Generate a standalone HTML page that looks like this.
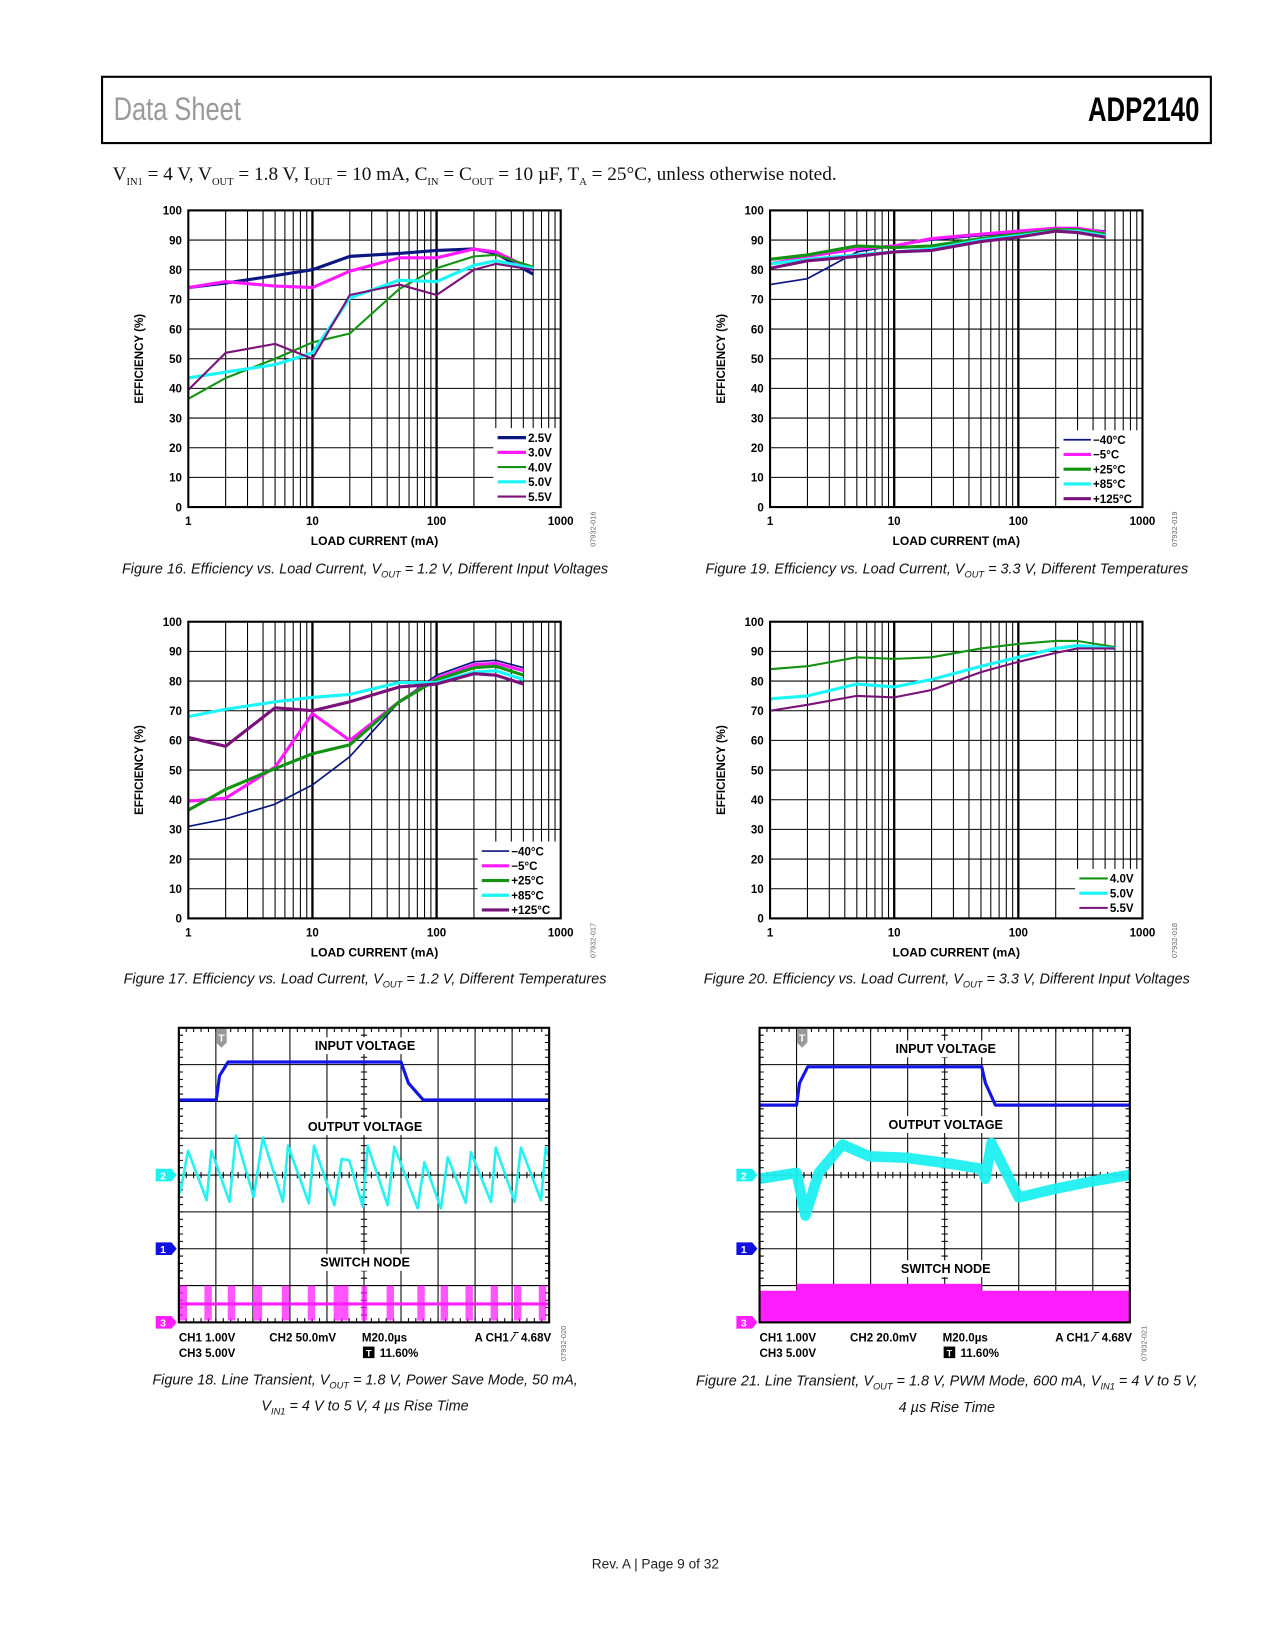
<!DOCTYPE html>
<html><head><meta charset="utf-8">
<style>
html,body{margin:0;padding:0;background:#fff;}
body{width:1275px;height:1650px;overflow:hidden;position:relative;}
#wrap{position:absolute;left:0;top:0;width:1212px;height:1568px;transform:scale(1.052);transform-origin:0 0;}
.abs{position:absolute;white-space:nowrap;}
.cap{font-family:"Liberation Sans",sans-serif;font-style:italic;font-size:14px;color:#111;text-align:center;transform:scaleX(0.98);}
.cap sub{font-size:9px;}
svg text{font-family:"Liberation Sans",sans-serif;}
</style></head>
<body>
<div id="wrap">
  <div class="abs" style="left:96px;top:72px;width:1052px;height:61px;border:2px solid #000;"></div>
  <div class="abs" style="left:108px;top:86px;font-family:'Liberation Sans',sans-serif;font-size:31px;color:#9a9a9a;transform:scaleX(0.78);transform-origin:0 0;">Data Sheet</div>
  <div class="abs" style="right:72px;top:85px;font-family:'Liberation Sans',sans-serif;font-weight:bold;font-size:33px;color:#000;transform:scaleX(0.74);transform-origin:100% 0;">ADP2140</div>
  <div class="abs" style="left:107px;top:155px;font-family:'Liberation Serif',serif;font-size:18.3px;color:#111;">V<sub style="font-size:10px">IN1</sub> = 4 V, V<sub style="font-size:10px">OUT</sub> = 1.8 V, I<sub style="font-size:10px">OUT</sub> = 10 mA, C<sub style="font-size:10px">IN</sub> = C<sub style="font-size:10px">OUT</sub> = 10 µF, T<sub style="font-size:10px">A</sub> = 25°C, unless otherwise noted.</div>

  <div class="abs cap" style="left:97px;width:500px;top:532px;">Figure 16. Efficiency vs. Load Current, V<sub>OUT</sub> = 1.2 V, Different Input Voltages</div>
  <div class="abs cap" style="left:650px;width:500px;top:532px;">Figure 19. Efficiency vs. Load Current, V<sub>OUT</sub> = 3.3 V, Different Temperatures</div>
  <div class="abs cap" style="left:97px;width:500px;top:922px;">Figure 17. Efficiency vs. Load Current, V<sub>OUT</sub> = 1.2 V, Different Temperatures</div>
  <div class="abs cap" style="left:650px;width:500px;top:922px;">Figure 20. Efficiency vs. Load Current, V<sub>OUT</sub> = 3.3 V, Different Input Voltages</div>
  <div class="abs cap" style="left:97px;width:500px;top:1302px;line-height:19px;">Figure 18. Line Transient, V<sub>OUT</sub> = 1.8 V, Power Save Mode, 50 mA,<br>V<sub>IN1</sub> = 4 V to 5 V, 4 µs Rise Time</div>
  <div class="abs cap" style="left:650px;width:500px;top:1303px;line-height:19px;">Figure 21. Line Transient, V<sub>OUT</sub> = 1.8 V, PWM Mode, 600 mA, V<sub>IN1</sub> = 4 V to 5 V,<br>4 µs Rise Time</div>
  <div class="abs" style="left:523px;width:200px;text-align:center;top:1479px;font-family:'Liberation Sans',sans-serif;font-size:13px;color:#222;">Rev. A | Page 9 of 32</div>

  <svg id="main" class="abs" style="left:0;top:0" width="1212" height="1568"></svg>
</div>
<script>
// ---------- Figure 16 data ----------
const f16X=[1,2,5,10,20,50,100,200,300,600];
const f16_25=[74,75.5,78,80,84.5,85.5,86.5,87,85.5,78.5];
const f16_30=[74,76,74.5,74,79.5,84,84,87,86,80];
const f16_40=[36.5,43.5,50,55.5,58.5,73.5,80.5,84.5,85,81];
const f16_50=[43.5,45.5,48,52,70.5,76.5,76,81.5,83,80.5];
const f16_55=[39.5,52,55,50,71.5,75,71.5,80,82,80];
const f16Labels=["2.5V","3.0V","4.0V","5.0V","5.5V"];
// ---------- Figure 19 data ----------
const f19X=[1,2,5,10,20,50,100,200,300,500];
const f19_m40=[75,77,86,88,90,91.5,92.5,93.5,94,93];
const f19_m5=[82,84.5,87,88,90.5,92,93,94,94,92.5];
const f19_25=[83.5,85,88,87.5,88,90.5,92,93.5,93.5,92];
const f19_85=[82,83.5,85,86,87,90,91.5,93,93,91.5];
const f19_125=[80.5,83,84.5,86,86.5,89.5,91,93,92.5,91];
const tempLabels=["\u221240\u00b0C","\u22125\u00b0C","+25\u00b0C","+85\u00b0C","+125\u00b0C"];
// ---------- Figure 17 data ----------
const f17X=[1,2,5,10,20,50,100,200,300,500];
const f17_m40=[31,33.5,38.5,45,54.5,73,82,86.5,87,84.5];
const f17_m5=[39.5,40.5,51,69,60,73,81,85.5,86,83.5];
const f17_25=[36.5,43.5,50.5,55.5,58.5,73,80.5,84.5,85,82];
const f17_85=[68,70.5,73,74.5,75.5,79.5,79.5,83,83.5,80.5];
const f17_125=[61,58,71,70,73,78,79,82.5,82,79];
// ---------- Figure 20 data ----------
const f20X=[1,2,5,10,20,50,100,200,300,600];
const f20_40=[84,85,88,87.5,88,91,92.5,93.5,93.5,91.5];
const f20_50=[74,75,79,78,80.5,85,88,91,92,91];
const f20_55=[70,72,75,74.5,77,83,86.5,89.5,91,91];
const f20Labels=["4.0V","5.0V","5.5V"];
const yTicks=[0,10,20,30,40,50,60,70,80,90,100];
const xTicks=[1,10,100,1000];
// ---------- Scope data (divisions: x 0..10, y 0..8 from top) ----------
const s18InT=[0,1.01,1.1,1.33,6.0,6.2,6.6,10];
const s18InV=[1.96,1.96,1.3,0.93,0.93,1.5,1.96,1.96];
const s18OutT=[0.03,0.25,0.75,0.88,1.37,1.54,2.02,2.27,2.81,2.95,3.51,3.65,4.2,4.4,4.6,4.97,5.1,5.64,5.82,6.45,6.63,7.08,7.26,7.75,7.89,8.43,8.56,9.07,9.24,9.78,9.91,10];
const s18OutV=[4.5,3.34,4.68,3.34,4.73,2.93,4.59,2.98,4.73,3.2,4.77,3.2,4.82,3.56,3.6,4.86,3.2,4.82,3.23,4.9,3.65,4.9,3.52,4.75,3.38,4.73,3.25,4.73,3.25,4.68,3.25,3.52];
const s18Burst=[0.12,0.79,1.42,2.14,2.88,3.58,4.38,5.01,5.71,6.54,7.17,7.84,8.52,9.15,9.82];
const s18BurstW=[0.2,0.2,0.2,0.22,0.2,0.2,0.4,0.15,0.2,0.2,0.2,0.2,0.2,0.2,0.2];
const s21InT=[0,1.0,1.08,1.3,6.0,6.1,6.37,10];
const s21InV=[2.1,2.1,1.5,1.06,1.06,1.5,2.1,2.1];
const s21OutT=[0,1.0,1.24,1.6,2.24,2.96,3.95,5.02,6.0,6.1,6.26,7.0,7.9,8.97,10];
const s21OutV=[4.1,3.94,5.1,3.94,3.17,3.49,3.53,3.67,3.83,4.1,3.13,4.61,4.39,4.17,3.99];
const s21SwT=[0,1.0,1.0,6.0,6.0,10];
const s21SwV=[7.14,7.14,6.95,6.95,7.14,7.14];

const NS="http://www.w3.org/2000/svg";
const svg=document.getElementById('main');
function mk(tag,attrs,parent){const e=document.createElementNS(NS,tag);for(const k in attrs)e.setAttribute(k,attrs[k]);(parent||svg).appendChild(e);return e;}
function txt(x,y,s,attrs,parent){const t=mk('text',Object.assign({x:x,y:y},attrs||{}),parent);t.textContent=s;return t;}

const PW=354,PH=282;
function effChart(L,T,xs,series,colors,widths,labels,leg,code,name){
  const g=mk('g',{});
  
  
  const X=v=>L+Math.log10(v)/3*PW;
  const Y=v=>T+PH-v/100*PH;
  for(let d=0;d<3;d++){for(let m=2;m<=9;m++){const v=Math.pow(10,d)*m;const x=X(v);
    const l=mk('line',{x1:x,x2:x,y1:T,y2:T+PH,stroke:'#000','stroke-width':1},g);
    
    }}
  [10,100].forEach(v=>{const l=mk('line',{x1:X(v),x2:X(v),y1:T,y2:T+PH,stroke:'#000','stroke-width':2.2},g);
    
    });
  yTicks.forEach(v=>{const l=mk('line',{x1:L,x2:L+PW,y1:Y(v),y2:Y(v),stroke:'#000','stroke-width':1},g);
    
    
    const t=txt(L-6,Y(v)+4,String(v),{'text-anchor':'end','font-size':11,'font-weight':'bold'},g);
    
    });
  xTicks.forEach(v=>{const t=txt(X(v),T+PH+17,String(v),{'text-anchor':'middle','font-size':11,'font-weight':'bold'},g);
    
    });
  const lb=mk('rect',{x:leg.x,y:leg.y,width:L+PW-leg.x,height:T+PH-leg.y,fill:'#fff'},g);
  
  
  series.forEach((arr,i)=>{let d='';arr.forEach((v,j)=>{d+=(j?'L':'M')+X(xs[j]).toFixed(1)+','+Y(v).toFixed(1);});
    const p=mk('path',{d:d,fill:'none',stroke:colors[i],'stroke-width':widths[i],'stroke-linejoin':'round'},g);
    
    
    const yy=leg.y0+i*14;
    const ll=mk('line',{x1:leg.l1,x2:leg.l2,y1:yy,y2:yy,stroke:colors[i],'stroke-width':widths[i]},g);
    
    
    const lt=txt(leg.l2+2,yy+4,labels[i],{'font-size':11,'font-weight':'bold'},g);
    
    });
  const b=mk('rect',{x:L,y:T,width:PW,height:PH,fill:'none',stroke:'#000','stroke-width':2},g);
  
  
  const xt=txt(L+PW/2,T+PH+36,'LOAD CURRENT (mA)',{'text-anchor':'middle','font-size':11.5,'font-weight':'bold'},g);
  
  
  const yt=txt(0,0,'EFFICIENCY (%)',{'text-anchor':'middle','font-size':11,'font-weight':'bold',transform:'translate('+(L-43)+','+(T+PH/2)+') rotate(-90)'},g);
  
  
  const ct=txt(0,0,code,{'text-anchor':'middle','font-size':7,fill:'#666',transform:'translate('+(L+PW+33)+','+(T+PH+21)+') rotate(-90)'},g);
  
  
}
const C5=['#0c1680','#ff1aff','#129412','#1af5f5','#7a127a'];
const W5=[3,3,2,3,2];
const C5b=['#0c1680','#ff1aff','#129412','#1af5f5','#7a127a'];
const W5b=[1.6,3,3,3,3];
effChart(179,200,f16X,[f16_25,f16_30,f16_40,f16_50,f16_55],C5,W5,f16Labels,{x:469,y:407,y0:416,l1:473,l2:500},'07932-016','figure-16-chart');
effChart(732,200,f19X,[f19_m40,f19_m5,f19_25,f19_85,f19_125],C5b,W5b,tempLabels,{x:1007,y:409,y0:418,l1:1011,l2:1037},'07932-019','figure-19-chart');
effChart(179,591,f17X,[f17_m40,f17_m5,f17_25,f17_85,f17_125],C5b,W5b,tempLabels,{x:454,y:800,y0:809,l1:458,l2:484},'07932-017','figure-17-chart');
effChart(732,591,f20X,[f20_40,f20_50,f20_55],['#129412','#1af5f5','#7a127a'],[2,3,2],f20Labels,{x:1022,y:826,y0:835,l1:1026,l2:1053},'07932-018','figure-20-chart');

const SW=352,SH=280;
function scope(L,T,cfg,name){
  const g=mk('g',{});
  
  
  const dx=SW/10,dy=SH/8;
  const X=t=>L+t*dx, Y=v=>T+v*dy;
  for(let i=1;i<10;i++){const l=mk('line',{x1:X(i),x2:X(i),y1:T,y2:T+SH,stroke:'#000','stroke-width':1},g);
    
    }
  for(let i=1;i<8;i++){const l=mk('line',{x1:L,x2:L+SW,y1:Y(i),y2:Y(i),stroke:'#000','stroke-width':1},g);
    
    }
  let td='';
  for(let i=1;i<50;i++){const x=L+i*dx/5;td+='M'+x+','+T+'v4M'+x+','+(T+SH)+'v-4M'+x+','+(Y(4)-3)+'v6';}
  for(let i=1;i<40;i++){const y=T+i*dy/5;td+='M'+L+','+y+'h4M'+(L+SW)+','+y+'h-4M'+(X(5)-3)+','+y+'h6';}
  const tk=mk('path',{d:td,stroke:'#000','stroke-width':1,fill:'none'},g);
  
  
  cfg.labels.forEach(lb=>{
    const r=mk('rect',{x:lb.x-lb.w/2,y:lb.y-12,width:lb.w,height:16,fill:'#fff'},g);
    
    
    const t=txt(lb.x,lb.y,lb.s,{'text-anchor':'middle','font-size':12,'font-weight':'bold'},g);
    
    });
  function path(ts,vs,color,w,nm,op){let d='';ts.forEach((t,j)=>{d+=(j?'L':'M')+X(t).toFixed(1)+','+Y(vs[j]).toFixed(1);});
    const p=mk('path',{d:d,fill:'none',stroke:color,'stroke-width':w,'stroke-linejoin':'round',opacity:op||1},g);
    
    return p;}
  path(cfg.inT,cfg.inV,'#1414e6',3,'input-voltage-trace');
  path(cfg.outT,cfg.outV,'#1ef0f0',cfg.outW,'output-voltage-trace',0.95);
  if(cfg.burst){
    path([0,10],[7.5,7.5],'#ff1eff',3,'switch-node-baseline');
    cfg.burst.forEach((c,i)=>{const r=mk('rect',{x:X(c-cfg.burstW[i]/2),y:Y(7.0),width:cfg.burstW[i]*dx,height:0.95*dy,fill:'#ff1eff',opacity:0.75},g);
      
      });
  } else {
    let d='M'+X(0)+','+Y(8);cfg.swT.forEach((t,j)=>{d+='L'+X(t).toFixed(1)+','+Y(cfg.swV[j]).toFixed(1);});d+='L'+X(10)+','+Y(8)+'Z';
    const p=mk('path',{d:d,fill:'#ff1eff'},g);
    
    
  }
  const b=mk('rect',{x:L,y:T,width:SW,height:SH,fill:'none',stroke:'#000','stroke-width':2},g);
  
  
  const tm=mk('path',{d:'M'+(X(cfg.trig)-5)+','+(T+1)+'h10v13l-5,5l-5,-5z',fill:'#999'},g);
  
  
  const tt=txt(X(cfg.trig),T+13,'T',{'text-anchor':'middle','font-size':10,'font-weight':'bold',fill:'#fff'},g);
  
  
  [['2',4,'#1ef0f0'],['1',6,'#1010e0'],['3',8,'#ff1eff']].forEach(m=>{
    const y=Y(m[1]);
    const p=mk('path',{d:'M'+(L-22)+','+(y-6)+'h15l5,6l-5,6h-15z',fill:m[2]},g);
    
    
    const t=txt(L-15,y+4,m[0],{'text-anchor':'middle','font-size':10,'font-weight':'bold',fill:'#fff'},g);
    
    });
  const rows=[[L,T+SH+18,'CH1  1.00V','start'],[L+86,T+SH+18,cfg.ch2,'start'],[L+174,T+SH+18,'M20.0\u00b5s','start'],[L+SW+2,T+SH+18,'A  CH1 \u2215\u203e 4.68V','end'],[L,T+SH+33,'CH3  5.00V','start'],[L+191,T+SH+33,'11.60%','start']];
  rows.forEach(r=>{const t=txt(r[0],r[1],r[2],{'text-anchor':r[3],'font-size':11,'font-weight':'bold','xml:space':'preserve'},g);
    
    });
  const tb=mk('rect',{x:L+175,y:T+SH+23,width:11,height:11,fill:'#000'},g);
  
  
  const tbt=txt(L+180.5,T+SH+32.5,'T',{'text-anchor':'middle','font-size':9,'font-weight':'bold',fill:'#fff'},g);
  
  
  const ct=txt(0,0,cfg.code,{'text-anchor':'middle','font-size':7,fill:'#666',transform:'translate('+(L+SW+16)+','+(T+SH+20)+') rotate(-90)'},g);
  
  
}
scope(170,977,{inT:s18InT,inV:s18InV,outT:s18OutT,outV:s18OutV,outW:2.5,burst:s18Burst,burstW:s18BurstW,trig:1.15,ch2:'CH2  50.0mV',code:'07932-020',
  labels:[{s:'INPUT VOLTAGE',x:347,y:998,w:104},{s:'OUTPUT VOLTAGE',x:347,y:1075,w:116},{s:'SWITCH NODE',x:347,y:1204,w:92}]},'figure-18-scope');
scope(722,977,{inT:s21InT,inV:s21InV,outT:s21OutT,outV:s21OutV,outW:10,swT:s21SwT,swV:s21SwV,trig:1.15,ch2:'CH2  20.0mV',code:'07932-021',
  labels:[{s:'INPUT VOLTAGE',x:899,y:1001,w:104},{s:'OUTPUT VOLTAGE',x:899,y:1073,w:116},{s:'SWITCH NODE',x:899,y:1210,w:92}]},'figure-21-scope');
</script>
</body></html>
